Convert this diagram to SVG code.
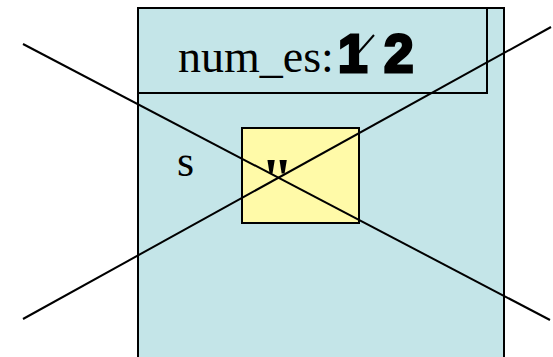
<svg xmlns="http://www.w3.org/2000/svg" width="553" height="357" viewBox="0 0 553 357">
<style>
.box{stroke:#000;stroke-width:2}
.t{font-family:"Liberation Serif","Times New Roman",serif;fill:#000}
.b{font-family:"Liberation Sans","Arial",sans-serif;font-weight:900;fill:#000;stroke:#000;stroke-width:3}
.ln{stroke:#000;stroke-width:2;fill:none}
</style>
<rect width="553" height="357" fill="#fff"/>
<g id="frame">
<rect class="box" x="138" y="8" width="366" height="360" fill="#c4e5e8"/>
</g>
<g id="header">
<rect class="box" x="138" y="8" width="349" height="85" fill="#c4e5e8"/>
<text class="t" x="178" y="72" font-size="46">num_es:</text>
<text class="b" x="338" y="72" font-size="53">1</text>
<text class="b" x="384" y="72" font-size="53">2</text>
<line class="ln" x1="352" y1="60" x2="374" y2="35" stroke-width="6"/>
</g>
<g id="s">
<text class="t" x="177" y="176" font-size="44">s</text>
<rect class="box" x="242" y="128" width="117" height="95" fill="#fffaa8"/>
<text class="t" x="261" y="198" font-size="58" font-weight="bold">"</text>
</g>
<g id="connectors">
<line class="ln" x1="23" y1="44" x2="550" y2="320"/>
<line class="ln" x1="23" y1="319" x2="551" y2="27"/>
</g>
</svg>
